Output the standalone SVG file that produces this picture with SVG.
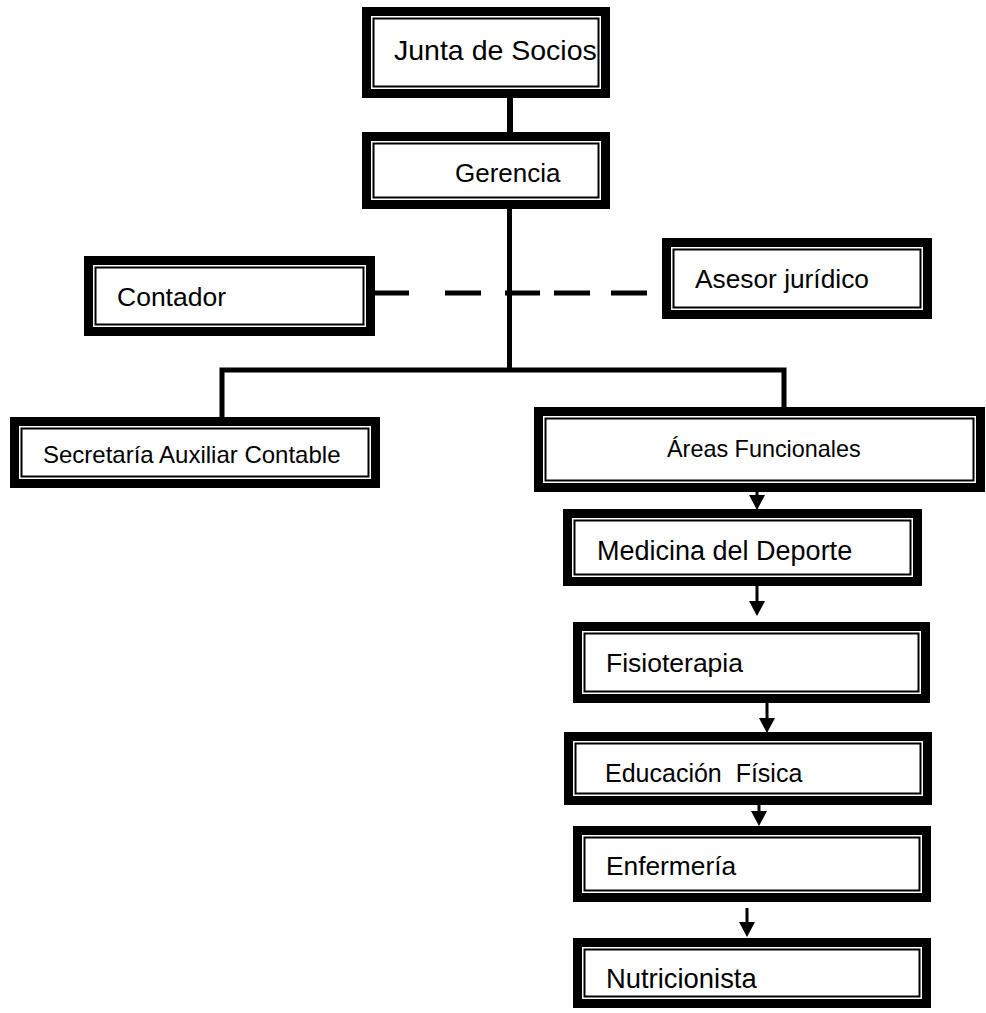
<svg xmlns="http://www.w3.org/2000/svg" width="986" height="1013" viewBox="0 0 986 1013">
<style>
.o{fill:#fff;stroke:#000;stroke-width:9}
.i{fill:none;stroke:#000;stroke-width:2}
.t{font-family:"Liberation Sans",Arial,sans-serif;fill:#000;white-space:pre}
.c{stroke:#000;fill:none}
</style>
<defs>
<marker id="ah" markerUnits="userSpaceOnUse" markerWidth="16" markerHeight="16" refX="2" refY="8" orient="auto">
<path d="M0,0 L15,8 L0,16 Z" fill="#000"/>
</marker>
</defs>
<rect width="986" height="1013" fill="#fff"/>
<g id="connectors">
<line class="c" x1="510" y1="96" x2="510" y2="134" stroke-width="6"/>
<line class="c" x1="509.5" y1="207" x2="509.5" y2="372" stroke-width="5"/>
<path class="c" d="M222,417 L222,370 L784,370 L784,409" stroke-width="5"/>
<path class="c" d="M375,293 H409 M445,293 H481 M505,293 H540 M554,293 H590 M611,293 H647" stroke-width="5"/>
<line class="c" x1="757" y1="490" x2="757" y2="497" stroke-width="3" marker-end="url(#ah)"/>
<line class="c" x1="757" y1="584" x2="757" y2="603" stroke-width="3" marker-end="url(#ah)"/>
<line class="c" x1="767" y1="701" x2="767" y2="720" stroke-width="3" marker-end="url(#ah)"/>
<line class="c" x1="759" y1="803" x2="759" y2="813" stroke-width="3" marker-end="url(#ah)"/>
<line class="c" x1="747" y1="908" x2="747" y2="924" stroke-width="3" marker-end="url(#ah)"/>
</g>
<g id="junta">
<rect class="o" x="366.5" y="11.5" width="239" height="82"/>
<rect class="i" x="373.5" y="18.5" width="225" height="68"/>
<text class="t" x="394" y="60" font-size="28.5">Junta de Socios</text>
</g>
<g id="gerencia">
<rect class="o" x="366.5" y="136.5" width="239" height="68"/>
<rect class="i" x="373.5" y="143.5" width="225" height="54"/>
<text class="t" x="455" y="182" font-size="26">Gerencia</text>
</g>
<g id="contador">
<rect class="o" x="88.5" y="260.5" width="282" height="71"/>
<rect class="i" x="95.5" y="267.5" width="268" height="57"/>
<text class="t" x="117" y="306" font-size="26.5">Contador</text>
</g>
<g id="asesor">
<rect class="o" x="666.5" y="242.5" width="261" height="72"/>
<rect class="i" x="673.5" y="249.5" width="247" height="58"/>
<text class="t" x="695" y="288" font-size="26.3">Asesor jurídico</text>
</g>
<g id="secretaria">
<rect class="o" x="14.5" y="421.5" width="361" height="62"/>
<rect class="i" x="21.5" y="428.5" width="347" height="48"/>
<text class="t" x="43" y="463" font-size="24">Secretaría Auxiliar Contable</text>
</g>
<g id="areas">
<rect class="o" x="538.5" y="411.5" width="442" height="76"/>
<rect class="i" x="545.5" y="418.5" width="428" height="62"/>
<text class="t" x="667" y="457" font-size="23.4">Áreas Funcionales</text>
</g>
<g id="medicina">
<rect class="o" x="567.5" y="513.5" width="350" height="68"/>
<rect class="i" x="574.5" y="520.5" width="336" height="54"/>
<text class="t" x="597" y="560" font-size="27">Medicina del Deporte</text>
</g>
<g id="fisioterapia">
<rect class="o" x="577.5" y="626.5" width="348" height="72"/>
<rect class="i" x="584.5" y="633.5" width="334" height="58"/>
<text class="t" x="606" y="672" font-size="26.5">Fisioterapia</text>
</g>
<g id="educacion">
<rect class="o" x="568.5" y="736.5" width="359" height="64"/>
<rect class="i" x="575.5" y="743.5" width="345" height="50"/>
<text class="t" x="605" y="782" font-size="25">Educación  Física</text>
</g>
<g id="enfermeria">
<rect class="o" x="577.5" y="830.5" width="349" height="67"/>
<rect class="i" x="584.5" y="837.5" width="335" height="53"/>
<text class="t" x="606" y="875" font-size="26.3">Enfermería</text>
</g>
<g id="nutricionista">
<rect class="o" x="577.5" y="942.5" width="349" height="61"/>
<rect class="i" x="584.5" y="949.5" width="335" height="47"/>
<text class="t" x="606" y="988" font-size="27.4">Nutricionista</text>
</g>
</svg>
